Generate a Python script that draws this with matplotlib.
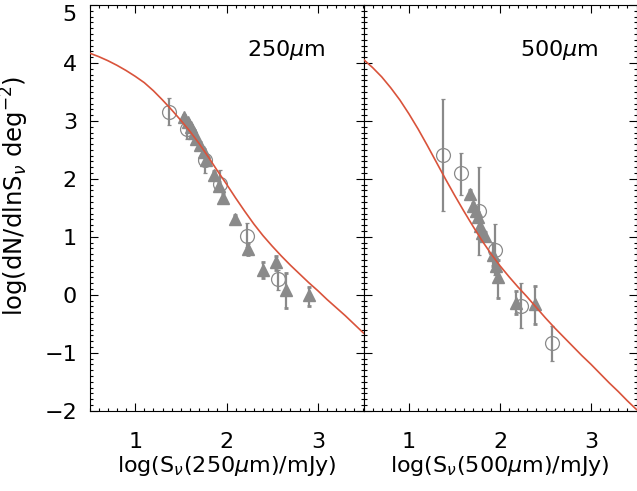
import matplotlib
matplotlib.use("Agg")
import matplotlib.pyplot as plt
from matplotlib.ticker import MultipleLocator

plt.rcParams['font.family'] = ['DejaVu Sans']
plt.rcParams['mathtext.fontset'] = 'dejavusans'

# ---- 250 micron counts ----
circ250_x = [1.37, 1.565, 1.765, 1.93, 2.22, 2.566]
circ250_y = [3.15, 2.86, 2.33, 1.91, 1.02, 0.28]
circ250_lo = [0.22, 0.18, 0.23, 0.12, 0.19, 0.19]
circ250_hi = [0.25, 0.14, 0.12, 0.24, 0.22, 0.15]

tri250_x = [1.53, 1.576, 1.61, 1.64, 1.67, 1.71, 1.75, 1.78, 1.86, 1.92, 1.965,
            2.09, 2.24, 2.40, 2.54, 2.65, 2.905]
tri250_y = [3.07, 2.98, 2.89, 2.80, 2.68, 2.59, 2.47, 2.33, 2.07, 1.87, 1.67,
            1.31, 0.79, 0.43, 0.56, 0.09, -0.01]
tri250_lo = [0.04, 0.04, 0.04, 0.04, 0.05, 0.05, 0.05, 0.06, 0.07, 0.08, 0.08,
             0.06, 0.11, 0.14, 0.13, 0.32, 0.19]
tri250_hi = [0.04, 0.04, 0.04, 0.04, 0.05, 0.05, 0.05, 0.06, 0.07, 0.08, 0.08,
             0.06, 0.10, 0.14, 0.11, 0.29, 0.15]

model250_x = [0.5, 0.6, 0.7, 0.8, 0.9, 1.0, 1.1, 1.2, 1.3, 1.4, 1.5, 1.6, 1.7,
              1.8, 1.9, 2.0, 2.1, 2.2, 2.3, 2.4, 2.5, 2.6, 2.7, 2.8, 2.9, 3.0,
              3.1, 3.2, 3.3, 3.4, 3.5]
model250_y = [4.17, 4.11, 4.04, 3.96, 3.87, 3.77, 3.66, 3.52, 3.36, 3.19, 3.01,
              2.82, 2.61, 2.38, 2.14, 1.91, 1.67, 1.44, 1.22, 1.02, 0.84, 0.67,
              0.51, 0.36, 0.21, 0.07, -0.08, -0.22, -0.36, -0.51, -0.66]

# ---- 500 micron counts ----
circ500_x = [1.372, 1.573, 1.774, 1.945, 2.23, 2.575]
circ500_y = [2.41, 2.10, 1.45, 0.77, -0.19, -0.83]
circ500_lo = [0.97, 0.38, 0.76, 0.43, 0.38, 0.32]
circ500_hi = [0.96, 0.35, 0.76, 0.45, 0.39, 0.30]

tri500_x = [1.675, 1.708, 1.737, 1.76, 1.78, 1.80, 1.84, 1.92, 1.956, 1.978, 2.175, 2.39]
tri500_y = [1.74, 1.53, 1.44, 1.35, 1.19, 1.06, 1.01, 0.69, 0.49, 0.30, -0.14, -0.16]
tri500_lo = [0.06, 0.06, 0.07, 0.07, 0.08, 0.08, 0.08, 0.20, 0.12, 0.35, 0.20, 0.34]
tri500_hi = [0.06, 0.06, 0.07, 0.07, 0.08, 0.08, 0.08, 0.20, 0.12, 0.30, 0.20, 0.32]

model500_x = [0.5, 0.6, 0.7, 0.8, 0.9, 1.0, 1.1, 1.2, 1.3, 1.4, 1.5, 1.6, 1.7,
              1.8, 1.9, 2.0, 2.1, 2.2, 2.3, 2.4, 2.5, 2.6, 2.7, 2.8, 2.9, 3.0,
              3.1, 3.2, 3.3, 3.4, 3.5]
model500_y = [4.06, 3.92, 3.76, 3.57, 3.36, 3.12, 2.86, 2.58, 2.29, 2.00, 1.72,
              1.45, 1.19, 0.94, 0.71, 0.50, 0.31, 0.13, -0.04, -0.22, -0.40,
              -0.57, -0.73, -0.89, -1.05, -1.20, -1.36, -1.52, -1.67, -1.83, -1.98]

GRAY = '#8a8a8a'
RED = '#d9533b'
FS = 16

W, H = 637, 491
fig = plt.figure(figsize=(W / 100, H / 100), dpi=100)
left, right_edge, split = 89.5, 636.5, 363.5
bottom, top = 410.7, 5.0
ax1 = fig.add_axes([left / W, 1 - bottom / H, (split - left) / W, (bottom - top) / H])
ax2 = fig.add_axes([split / W, 1 - bottom / H, (right_edge - split) / W, (bottom - top) / H])


def draw_panel(ax, cx, cy, clo, chi, tx, ty, tlo, thi, mx, my, band):
    ax.errorbar(tx, ty, yerr=[tlo, thi], fmt='^', color=GRAY, ms=8.5, mec=GRAY,
                mfc=GRAY, elinewidth=1.6, capsize=1.2, capthick=2.0, zorder=3)
    ax.errorbar(cx, cy, yerr=[clo, chi], fmt='o', color=GRAY, ms=10, mfc='none',
                mec=GRAY, mew=0.9, elinewidth=1.6, capsize=1.2, capthick=2.0, zorder=3)
    ax.plot(mx, my, color=RED, lw=1.2, zorder=4)
    ax.set_xlim(0.5, 3.5)
    ax.set_ylim(-2, 5)
    ax.xaxis.set_major_locator(MultipleLocator(1))
    ax.xaxis.set_minor_locator(MultipleLocator(0.1))
    ax.yaxis.set_major_locator(MultipleLocator(1))
    ax.yaxis.set_minor_locator(MultipleLocator(0.1))
    ax.tick_params(which='both', direction='in', top=True, right=True, width=0.8,
                   labelsize=FS, color='black')
    ax.tick_params(which='major', length=5.5)
    ax.tick_params(which='minor', length=2.5)
    ax.tick_params(axis='x', pad=15)
    ax.tick_params(axis='y', pad=9)
    for s in ax.spines.values():
        s.set_linewidth(0.8)
    ax.set_xticks([1, 2, 3])
    ax.set_xlabel(r'log(S$_\nu$(' + band + r'$\mathit{\mu}$m)/mJy)', fontsize=FS,
                  labelpad=2)
    ax.text(2.22, 4.22, band + r'$\mathit{\mu}$m', fontsize=FS, ha='left', va='center')


draw_panel(ax1, circ250_x, circ250_y, circ250_lo, circ250_hi,
           tri250_x, tri250_y, tri250_lo, tri250_hi, model250_x, model250_y, '250')
draw_panel(ax2, circ500_x, circ500_y, circ500_lo, circ500_hi,
           tri500_x, tri500_y, tri500_lo, tri500_hi, model500_x, model500_y, '500')

ax2.tick_params(axis='y', labelleft=False)
ax1.set_ylabel(r'log(dN/dlnS$_\nu$ deg$^{-2}$)', fontsize=17.5)
ax1.yaxis.set_label_coords(-0.213, 0.53)

# keep the top tick label inside the canvas
for lbl in ax1.get_yticklabels():
    if lbl.get_text() == '5':
        lbl.set_va('top')

fig.savefig('out.png', dpi=100)
